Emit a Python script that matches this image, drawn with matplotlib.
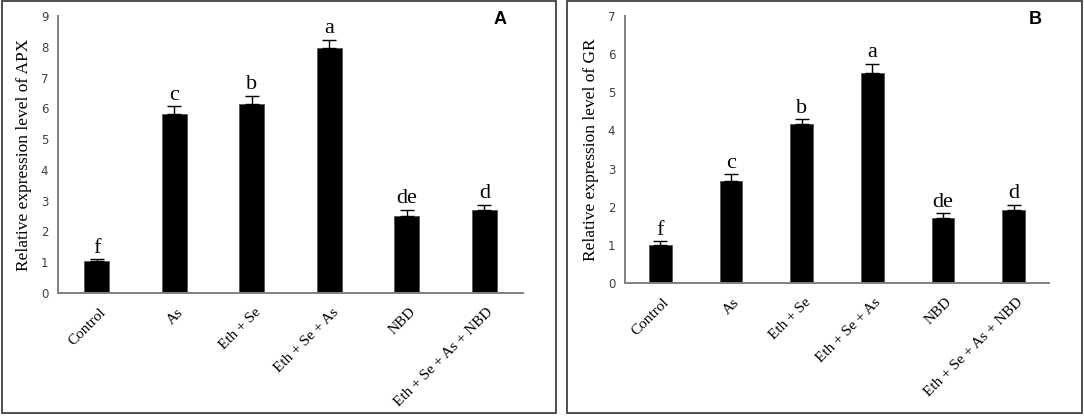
import matplotlib
matplotlib.use("Agg")
import matplotlib.pyplot as plt
from matplotlib.patches import Rectangle

W, H = 1084, 417

treatments = ["Control", "As", "Eth + Se", "Eth + Se + As", "NBD", "Eth + Se + As + NBD"]

# panel A - APX
apx_mean = [1.03, 5.81, 6.14, 7.95, 2.51, 2.69]
apx_err = [0.06, 0.25, 0.27, 0.27, 0.19, 0.17]
apx_letters = ["f", "c", "b", "a", "de", "d"]

# panel B - GR
gr_mean = [1.00, 2.67, 4.18, 5.50, 1.70, 1.91]
gr_err = [0.09, 0.18, 0.11, 0.24, 0.13, 0.14]
gr_letters = ["f", "c", "b", "a", "de", "d"]

serif = "Liberation Serif"
sans = "Liberation Sans"

fig = plt.figure(figsize=(W / 100, H / 100), dpi=100)


def px_axes(x0, x1, ytop, ybot):
    return fig.add_axes([x0 / W, 1 - ybot / H, (x1 - x0) / W, (ybot - ytop) / H])


def panel_box(x0, x1, y0, y1):
    fig.patches.append(Rectangle((x0 / W, 1 - y1 / H), (x1 - x0) / W, (y1 - y0) / H,
                                 transform=fig.transFigure, fill=False,
                                 edgecolor="#404040", linewidth=1.3))


def draw(ax, means, errs, letters, ymax, ylabel, tag, tagx):
    x = range(len(treatments))
    ax.bar(x, means, width=0.32, color="black", edgecolor="#555555", linewidth=0.6, zorder=2)
    ax.errorbar(x, means, yerr=[[0] * len(errs), errs], fmt="none", ecolor="black",
                elinewidth=1.0, capsize=5, capthick=1.0, zorder=3)
    for i, (m, e, l) in enumerate(zip(means, errs, letters)):
        ax.text(i, m + e + ymax * 0.006, l, ha="center", va="bottom",
                fontsize=16, family=serif)
    ax.set_xlim(-0.5, len(treatments) - 0.5)
    ax.set_ylim(0, ymax)
    ax.set_yticks(range(0, ymax + 1))
    ax.tick_params(axis="y", length=0, pad=7, labelsize=8.5, labelcolor="#404040")
    ax.tick_params(axis="x", length=0, pad=9)
    ax.set_xticks([i + 0.03 for i in x])
    ax.set_xticklabels(treatments, rotation=45, ha="right", rotation_mode="anchor",
                       fontsize=11, family=serif)
    for s in ["top", "right"]:
        ax.spines[s].set_visible(False)
    for s in ["left", "bottom"]:
        ax.spines[s].set_color("#808080")
        ax.spines[s].set_linewidth(1.4)
    ax.set_ylabel(ylabel, fontsize=12.5, family=serif, labelpad=6)
    fig.text(tagx / W, 1 - 20 / H, tag, ha="center", va="center",
             fontsize=13, fontweight="bold", family=sans)


panel_box(2, 556, 1, 413)
panel_box(567, 1082, 1, 413)

axA = px_axes(58, 523, 16, 293)
draw(axA, apx_mean, apx_err, apx_letters, 9, "Relative expression level of APX", "A", 500)

axB = px_axes(625, 1049, 16, 283)
draw(axB, gr_mean, gr_err, gr_letters, 7, "Relative expression level of GR", "B", 1035)

fig.savefig("out.png", dpi=100)
